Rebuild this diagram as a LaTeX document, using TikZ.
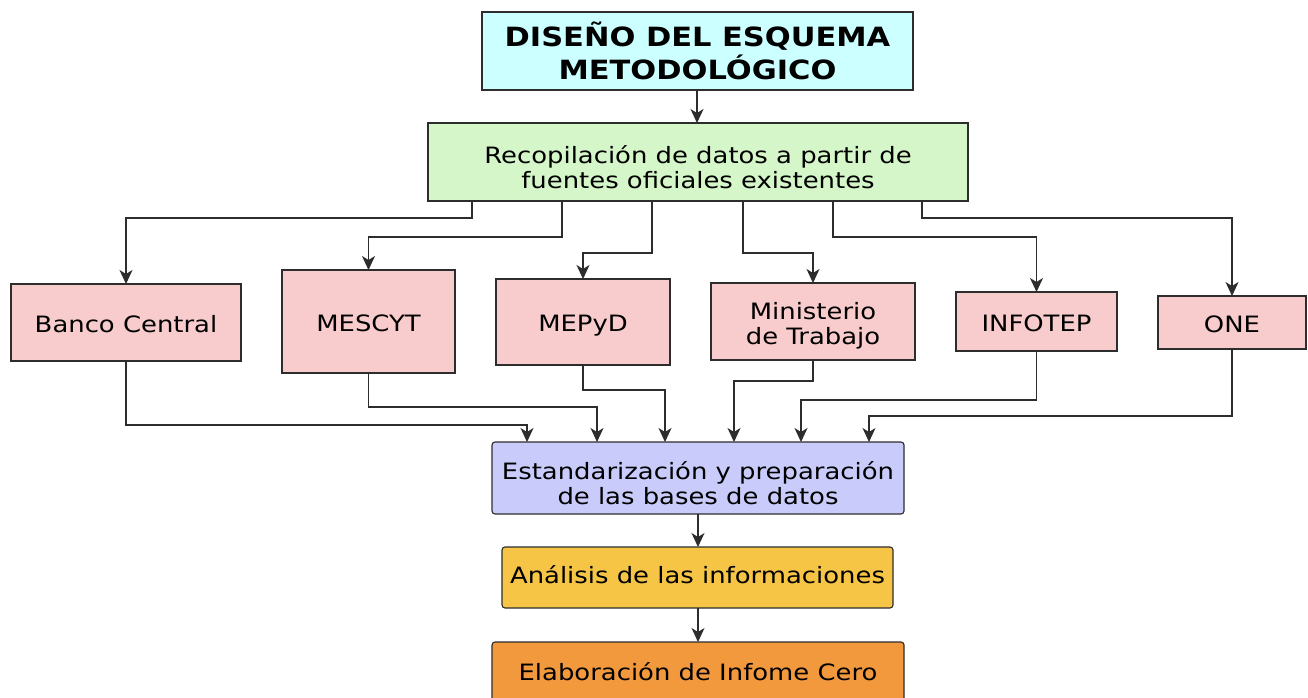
\documentclass[tikz,border=0pt]{standalone}
\usepackage{fontspec}
\setmainfont[FakeStretch=1.15]{DejaVu Sans}
\usetikzlibrary{arrows.meta,calc}
\definecolor{cyanfill}{RGB}{204,255,255}
\definecolor{greenfill}{RGB}{213,246,201}
\definecolor{pinkfill}{RGB}{248,204,204}
\definecolor{bluefill}{RGB}{201,204,250}
\definecolor{yellowfill}{RGB}{247,197,70}
\definecolor{orangefill}{RGB}{242,153,62}
\definecolor{linegray}{RGB}{45,45,45}
\newcommand{\upstrut}[1]{\rule{0pt}{#1}}
\newcommand{\dnstrut}[1]{\rule[-#1]{0pt}{0pt}}
\tikzset{
  box/.style={draw=linegray, line width=1.1pt, inner sep=0pt, outer sep=0pt, align=center,
    font=\fontsize{22.5}{25}\selectfont},
  onel/.style={box, text height=19pt, text depth=0pt},
  rbox/.style={box, rounded corners=3pt},
  arr/.style={draw=linegray, line width=1.2pt,
    -{Stealth[length=14pt,width=13pt,inset=4pt]}}
}
\begin{document}
\begin{tikzpicture}[x=1pt,y=-1pt]
\useasboundingbox (0,0) rectangle (1308,698);
\clip (0,0) rectangle (1308,698);
\fill[white] (0,0) rectangle (1308,698);
% main column
\node[box, fill=cyanfill, minimum width=431pt, minimum height=78pt,
  font=\fontsize{26.5}{33}\selectfont\bfseries] (title) at (697.5,51)
  {\upstrut{24pt}DISEÑO DEL ESQUEMA\\METODOLÓGICO};
\node[box, fill=greenfill, minimum width=540pt, minimum height=78pt] (rec) at (698,162)
  {\upstrut{28pt}Recopilación de datos a partir de\\fuentes oficiales existentes};
% sources
\node[onel, fill=pinkfill, minimum width=230pt, minimum height=77pt] (bc) at (126,322.5) {Banco Central};
\node[onel, fill=pinkfill, minimum width=173pt, minimum height=103pt] (mes) at (368.5,321.5) {MESCYT};
\node[onel, fill=pinkfill, minimum width=174pt, minimum height=86pt] (mep) at (583,322) {MEPyD};
\node[box, fill=pinkfill, minimum width=204pt, minimum height=77pt] (min) at (813,321.5)
  {\upstrut{26pt}Ministerio\\de Trabajo};
\node[onel, fill=pinkfill, minimum width=161pt, minimum height=59pt] (inf) at (1036.5,321.5) {INFOTEP};
\node[onel, fill=pinkfill, minimum width=148pt, minimum height=53pt] (one) at (1232,322.5) {ONE};
% lower column
\node[rbox, fill=bluefill, minimum width=412pt, minimum height=72pt] (est) at (698,478)
  {\upstrut{28pt}Estandarización y preparación\\de las bases de datos};
\node[rbox, fill=yellowfill, minimum width=391pt, minimum height=61pt] (ana) at (697.5,577.5)
  {Análisis de las informaciones\dnstrut{6pt}};
\node[rbox, fill=orangefill, minimum width=412pt, minimum height=60pt] (ela) at (698,672)
  {Elaboración de Infome Cero};
% connectors
\draw[arr] (title.south -| 697,0) -- (rec.north -| 697,0);
\draw[arr] (rec.south -| 472,0) -- ++(0,17) -| (bc.north);
\draw[arr] (rec.south -| 562,0) -- ++(0,36) -| (mes.north);
\draw[arr] (rec.south -| 652,0) -- ++(0,52) -| (mep.north);
\draw[arr] (rec.south -| 743,0) -- ++(0,52) -| (min.north);
\draw[arr] (rec.south -| 833,0) -- ++(0,36) -| (inf.north);
\draw[arr] (rec.south -| 922,0) -- ++(0,17) -| (one.north);
\draw[arr] (bc.south) |- (527,425) -- (est.north -| 527,0);
\draw[arr] (mes.south) |- (597,407) -- (est.north -| 597,0);
\draw[arr] (mep.south) |- (665,390) -- (est.north -| 665,0);
\draw[arr] (min.south) |- (734,381) -- (est.north -| 734,0);
\draw[arr] (inf.south) |- (801,400) -- (est.north -| 801,0);
\draw[arr] (one.south) |- (869,416) -- (est.north -| 869,0);
\draw[arr] (est.south -| 698,0) -- (ana.north -| 698,0);
\draw[arr] (ana.south -| 698,0) -- (ela.north -| 698,0);
\end{tikzpicture}
\end{document}
